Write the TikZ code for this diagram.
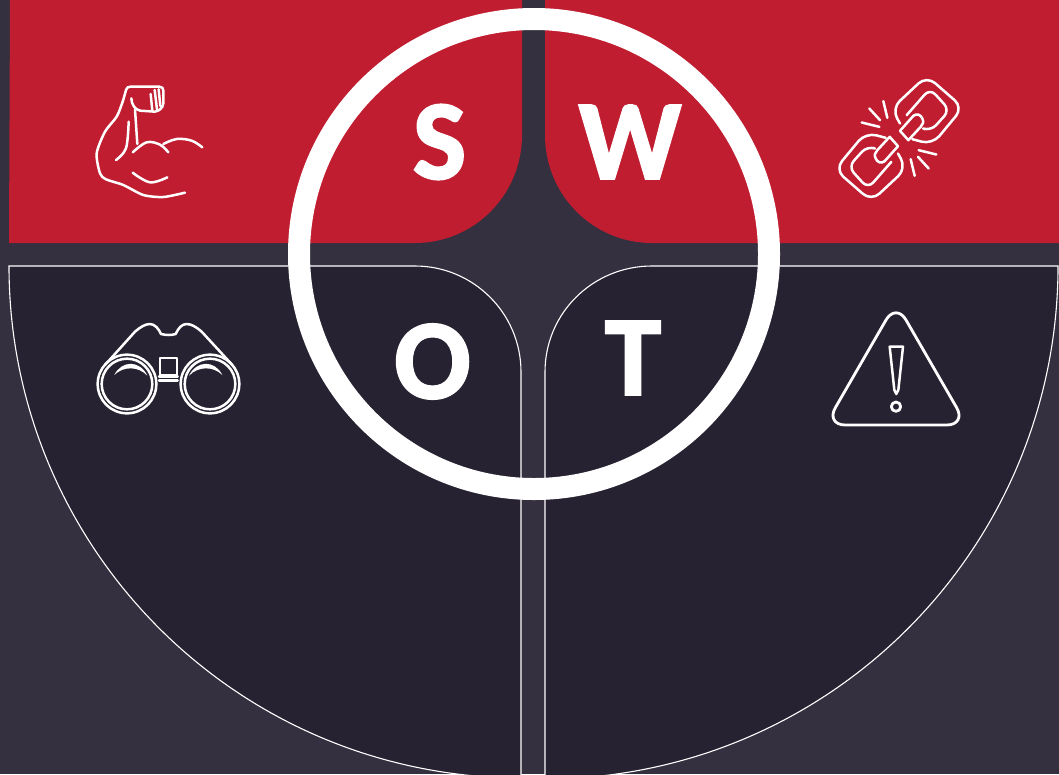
\documentclass[tikz,border=0pt]{standalone}
\usepackage{fontspec}
\setmainfont{Carlito}
\newfontfamily\swotfont{Carlito Bold}[FakeBold=2]
\definecolor{bgc}{HTML}{343040}
\definecolor{darkc}{HTML}{262231}
\definecolor{redc}{HTML}{C01D30}
\tikzset{
  redpanel/.style={fill=redc,draw=none},
  darkpanel/.style={fill=darkc,draw=white,line width=1.1pt},
  ringline/.style={draw=white,line width=22pt},
  letter/.style={text=white,font=\fontsize{113}{113}\swotfont,inner sep=0pt},
  icon/.style={draw=white,line width=2.5pt,line cap=round,line join=round},
  zoomed/.style={x=0.33333pt,y=-0.33333pt}
}
\begin{document}
\begin{tikzpicture}[x=1pt,y=-1pt]
\useasboundingbox (0,0) rectangle (1059,774);
\fill[bgc] (0,0) rectangle (1059,774);
% panels
\fill[redpanel] (10,0) -- (9,243) -- (415,243) .. controls (474,243) and (522,195) .. (522,135) -- (522,0) -- cycle;
\fill[redpanel] (1059,0) -- (1059,243) -- (652,243) .. controls (593,243) and (545,195) .. (545,135) -- (545,0) -- cycle;
\path[darkpanel] (521,780) -- (521,372) .. controls (521,313) and (473,266) .. (415,266) -- (9,266) arc[start angle=180,end angle=96,radius=512] -- cycle;
\path[darkpanel] (545,780) -- (545,372) .. controls (545,313) and (593,266) .. (652,266) -- (1058,266) arc[start angle=0,end angle=84,radius=513] -- cycle;
% ring
\node[circle,ringline,minimum size=470pt,inner sep=0pt] (ring) at (534,254) {};
% letters
\node[letter] (s) at (439.5,142) {S};
\node[letter] (w) at (630,142) {W};
\node[letter] (o) at (432.5,361.5) {O};
\node[letter] (t) at (633,358) {T};
% muscle
\begin{scope}[shift={(80,70)},zoomed]
\draw[icon] plot[smooth,tension=0.45] coordinates {(315,368) (250,381) (190,375) (130,345) (78,328) (60,310) (50,250) (75,185) (110,140) (128,95) (138,60)};
\draw[icon] (138,60) .. controls (140,52) and (145,50) .. (152,50) -- (238,50) .. controls (247,50) and (250,55) .. (250,62) -- (250,100) .. controls (248,115) and (238,122) .. (225,125) -- (180,122) .. controls (165,118) and (155,105) .. (154,85);
\draw[icon] (212,72) -- (217,122);
\draw[icon] (224,60) -- (231,118);
\draw[icon] (236,58) -- (241,108);
\draw[icon] (165,118) -- (172,222);
\draw[icon] plot[smooth,tension=0.6] coordinates {(158,247) (200,217) (240,224) (265,247)};
\draw[icon] plot[smooth,tension=0.6] coordinates {(250,222) (290,207) (335,212) (367,232)};
\draw[icon] plot[smooth,tension=0.6] coordinates {(146,155) (138,235) (108,270)};
\draw[icon] plot[smooth,tension=0.6] coordinates {(158,308) (210,337) (262,322)};
\end{scope}
% broken chain
\foreach \r in {0,180}{
\begin{scope}[shift={(899,138.5)},zoomed,rotate=\r]
\draw[icon,rounded corners=11pt] (3,-45) -- (-22,-90) -- (83,-188) -- (192,-93) -- (100,18) -- (40,2);
\draw[icon,rounded corners=8pt] (23,-70) -- (93,-150) -- (152,-85) -- (95,-22) -- (78,-28);
\draw[icon] (3,-23) -- (43,-68) .. controls (53,-76) and (65,-72) .. (70,-60) .. controls (75,-50) and (72,-42) .. (65,-35) -- (28,5) -- cycle;
\draw[icon] (-47,-112) -- (-35,-62);
\draw[icon] (-89,-90) -- (-57,-55);
\draw[icon] (-112,-48) -- (-59,-35);
\end{scope}}
% binoculars
\begin{scope}[shift={(85,310)},zoomed]
\draw[icon] (126,222) circle[radius=88];
\draw[icon] (126,222) circle[radius=76];
\draw[icon] (375,222) circle[radius=88];
\draw[icon] (375,222) circle[radius=76];
\draw[icon] (60,165) -- (150,65) .. controls (165,52) and (180,42) .. (195,42) .. controls (210,42) and (222,58) .. (228,72) .. controls (245,76) and (258,76) .. (272,72) .. controls (280,55) and (290,42) .. (305,42) .. controls (320,42) and (335,52) .. (350,65) -- (442,165);
\draw[icon,line width=1.8pt] (226,145) rectangle (275,194);
\draw[icon] (222,200) -- (278,200);
\draw[icon] (222,212) -- (278,212);
\fill[white] (88,195) .. controls (110,150) and (165,150) .. (187,197) .. controls (160,168) and (115,168) .. (88,195) -- cycle;
\fill[white] (312,197) .. controls (335,150) and (390,150) .. (412,195) .. controls (385,168) and (340,168) .. (312,197) -- cycle;
\end{scope}
% warning
\begin{scope}[shift={(820,300)},zoomed]
\draw[icon,line width=2.8pt,rounded corners=20pt] (228,8) -- (440,375) -- (16,375) -- cycle;
\draw[icon] (209,140) -- (249,140) -- (235,270) -- (229,282) -- (223,270) -- cycle;
\draw[icon,line width=2.8pt] (228,320) circle[radius=14];
\end{scope}
\end{tikzpicture}
\end{document}
